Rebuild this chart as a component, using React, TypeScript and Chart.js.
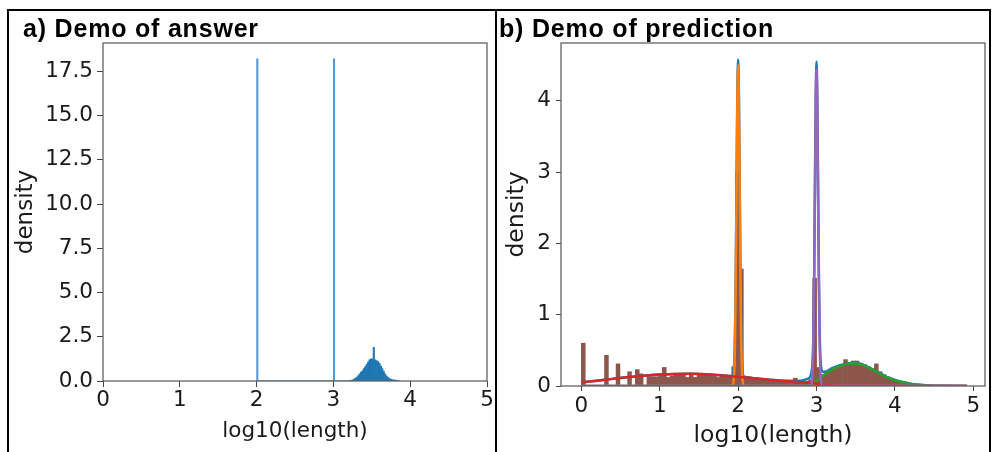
import React, { useEffect, useRef } from "react";
import { Chart, registerables } from "chart.js";

Chart.register(...registerables);

// ---------- Panel a: answer histogram (density) ----------
const answerBinStart = 2.0;
const answerBinWidth = 0.0185;
const answerDensity = [
  18.2, 0, 0, 0, 0, 0, 0, 0, 0, 0,
  0, 0, 0, 0, 0, 0, 0, 0, 0, 0,
  0, 0, 0, 0, 0, 0, 0, 0, 0, 0,
  0, 0, 0, 0, 0, 0, 0, 0, 0, 0,
  0, 0, 0, 0, 0, 0, 0, 0, 0, 0,
  0, 0, 0, 0, 18.2, 0, 0, 0, 0, 0,
  0, 0, 0, 0, 0, 0.02, 0.04, 0.06, 0.1, 0.16,
  0.22, 0.3, 0.4, 0.5, 0.58, 0.7, 0.82, 0.95, 1.08, 1.2,
  1.25, 1.25, 1.9, 1.2, 1.15, 1.1, 1.0, 0.85, 0.7, 0.55,
  0.4, 0.28, 0.2, 0.14, 0.1, 0.08, 0.05, 0.06, 0.04, 0.03,
];
const xTicksA = [0, 1, 2, 3, 4, 5];
const yTicksA = [0, 2.5, 5, 7.5, 10, 12.5, 15, 17.5];

// ---------- Panel b: prediction histogram + KDE components ----------
const predBinStart = 0;
const predBinWidth = 0.0492;
const predDensity = [
  0.6, 0, 0, 0, 0, 0, 0.43, 0, 0, 0.31,
  0, 0, 0.2, 0, 0.23, 0.17, 0, 0.13, 0.13, 0.13,
  0.14, 0.26, 0.12, 0.14, 0.15, 0.15, 0.15, 0.12, 0.16, 0.12,
  0.16, 0.16, 0.15, 0.17, 0.15, 0.12, 0.14, 0.13, 0.13, 0.27,
  3.0, 1.64, 0.12, 0.13, 0.1, 0.1, 0.1, 0.09, 0.09, 0.08,
  0.08, 0.07, 0.07, 0.06, 0.06, 0.11, 0.06, 0.06, 0.07, 0.09,
  1.51, 0.26, 0.16, 0.19, 0.21, 0.24, 0.26, 0.28, 0.37, 0.31,
  0.35, 0.35, 0.32, 0.3, 0.27, 0.24, 0.31, 0.2, 0.16, 0.13,
  0.11, 0.08, 0.06, 0.04, 0.02, 0.01, 0, 0, 0, 0,
  0, 0, 0, 0, 0, 0, 0, 0, 0, 0,
];

const kdeTotal: [number, number][] = [
  [0, 0.05], [0.2, 0.075], [0.4, 0.1], [0.6, 0.125], [0.8, 0.145], [1.0, 0.16],
  [1.2, 0.17], [1.4, 0.172], [1.6, 0.165], [1.8, 0.15], [1.9, 0.14], [1.93, 0.14],
  [1.94, 0.19], [1.95, 0.33], [1.96, 0.74], [1.97, 1.6], [1.98, 2.86], [1.99, 4.1],
  [2.0, 4.58], [2.01, 4.1], [2.02, 2.86], [2.03, 1.59], [2.04, 0.74], [2.05, 0.32],
  [2.06, 0.17], [2.08, 0.13], [2.2, 0.11], [2.4, 0.088], [2.6, 0.072], [2.8, 0.075],
  [2.88, 0.1], [2.92, 0.13], [2.94, 0.22], [2.95, 0.34], [2.96, 0.72], [2.97, 1.55],
  [2.98, 2.8], [2.99, 4.0], [3.0, 4.55], [3.01, 4.05], [3.02, 2.85], [3.03, 1.62],
  [3.04, 0.8], [3.05, 0.4], [3.06, 0.26], [3.08, 0.2], [3.1, 0.2], [3.2, 0.25],
  [3.3, 0.29], [3.4, 0.315], [3.5, 0.325], [3.6, 0.295], [3.7, 0.245], [3.8, 0.185],
  [3.9, 0.125], [4.0, 0.085], [4.1, 0.055], [4.2, 0.033], [4.3, 0.019], [4.4, 0.01],
  [4.5, 0.005], [4.7, 0.002], [4.92, 0],
];
const kdePeak2: [number, number][] = [
  [0, 0], [1.9, 0], [1.93, 0.01], [1.94, 0.05], [1.95, 0.2], [1.96, 0.61],
  [1.97, 1.46], [1.98, 2.73], [1.99, 3.97], [2.0, 4.5], [2.01, 3.97], [2.02, 2.73],
  [2.03, 1.46], [2.04, 0.61], [2.05, 0.2], [2.06, 0.05], [2.07, 0.01], [2.1, 0], [4.92, 0],
];
const kdeLong: [number, number][] = [
  [0, 0], [2.85, 0], [2.95, 0.03], [3.0, 0.07], [3.1, 0.16], [3.2, 0.23], [3.3, 0.28],
  [3.4, 0.31], [3.5, 0.32], [3.6, 0.29], [3.7, 0.24], [3.8, 0.18], [3.9, 0.12],
  [4.0, 0.08], [4.1, 0.05], [4.2, 0.03], [4.3, 0.016], [4.4, 0.008], [4.5, 0.004],
  [4.7, 0.001], [4.92, 0],
];
const kdeShort: [number, number][] = [
  [0, 0.05], [0.2, 0.075], [0.4, 0.1], [0.6, 0.125], [0.8, 0.145], [1.0, 0.16],
  [1.2, 0.17], [1.4, 0.172], [1.6, 0.163], [1.8, 0.148], [2.0, 0.128], [2.2, 0.108],
  [2.4, 0.088], [2.6, 0.07], [2.8, 0.054], [2.95, 0.042], [3.05, 0.02], [3.2, 0.005],
  [3.4, 0], [4.92, 0],
];
const kdePeak3: [number, number][] = [
  [0, 0], [2.9, 0], [2.93, 0.01], [2.94, 0.05], [2.95, 0.2], [2.96, 0.6],
  [2.97, 1.44], [2.98, 2.7], [2.99, 3.93], [3.0, 4.45], [3.01, 3.93], [3.02, 2.7],
  [3.03, 1.44], [3.04, 0.6], [3.05, 0.2], [3.06, 0.05], [3.07, 0.01], [3.1, 0], [4.92, 0],
];
const xTicksB = [0, 1, 2, 3, 4, 5];
const yTicksB = [0, 1, 2, 3, 4];

const TICK_FONT = "DejaVu Sans";
const TEXT_COLOR = "#1a1a1a";
const AXIS_COLOR = "#444";

const framePlugin = {
  id: "frame",
  afterDatasetsDraw(chart: any) {
    const { ctx, chartArea: a } = chart;
    ctx.save();
    ctx.strokeStyle = "#555";
    ctx.lineWidth = 1.2;
    ctx.strokeRect(a.left, a.top, a.right - a.left, a.bottom - a.top);
    ctx.restore();
  },
};

function toBars(start: number, width: number, values: number[]) {
  return values.map((y, i) => ({ x: start + width * (i + 0.5), y }));
}
function toPts(pairs: [number, number][]) {
  return pairs.map(([x, y]) => ({ x, y }));
}

function lineDs(pairs: [number, number][], color: string) {
  return {
    type: "line" as const,
    data: toPts(pairs),
    borderColor: color,
    backgroundColor: color,
    borderWidth: 2.5,
    pointRadius: 0,
    fill: false,
    cubicInterpolationMode: "monotone" as const,
  };
}

function PanelA() {
  const ref = useRef<HTMLCanvasElement>(null);
  useEffect(() => {
    const chart = new Chart(ref.current as HTMLCanvasElement, {
      type: "bar",
      data: {
        datasets: [
          {
            data: toBars(answerBinStart, answerBinWidth, answerDensity) as any,
            // the very thin tall bins render lighter (anti-aliased) in the original
            backgroundColor: (c: any) => (c.raw && c.raw.y > 10 ? "#5598cf" : "#1f77b4"),
            borderWidth: 0,
            barPercentage: 1,
            categoryPercentage: 1,
          },
        ],
      },
      options: {
        animation: false,
        responsive: false,
        events: [],
        layout: { padding: { left: 0, top: 43, right: 9, bottom: 0 } },
        plugins: { legend: { display: false }, tooltip: { enabled: false } },
        scales: {
          x: {
            type: "linear",
            min: 0,
            max: 5,
            offset: false,
            grid: { offset: false, drawOnChartArea: false, drawTicks: true, tickLength: 6, color: AXIS_COLOR },
            border: { display: false },
            ticks: { font: { family: TICK_FONT, size: 21.5 }, color: TEXT_COLOR, padding: 1, maxRotation: 0, autoSkip: false },
            afterBuildTicks: (s: any) => { s.ticks = xTicksA.map((v) => ({ value: v })); },
            title: { display: true, text: "log10(length)", font: { family: TICK_FONT, size: 21.5 }, color: TEXT_COLOR, padding: { top: 0, bottom: 8 } },
            afterFit: (s: any) => { s.height = 71; },
          },
          y: {
            type: "linear",
            min: 0,
            max: 19.1,
            grid: { drawOnChartArea: false, drawTicks: true, tickLength: 6, color: AXIS_COLOR },
            border: { display: false },
            ticks: { font: { family: TICK_FONT, size: 21.5 }, color: TEXT_COLOR, padding: 4, callback: (v: any) => Number(v).toFixed(1) },
            afterBuildTicks: (s: any) => { s.ticks = yTicksA.map((v) => ({ value: v })); },
            title: { display: true, text: "density", font: { family: TICK_FONT, size: 23 }, color: TEXT_COLOR, padding: { top: 12.7, bottom: 0 } },
            afterFit: (s: any) => { s.width = 103; },
          },
        },
      },
      plugins: [framePlugin],
    });
    return () => chart.destroy();
  }, []);
  return <canvas ref={ref} width={496} height={452} style={{ position: "absolute", left: 0, top: 0, width: 496, height: 452 }} />;
}

function PanelB() {
  const ref = useRef<HTMLCanvasElement>(null);
  useEffect(() => {
    const chart = new Chart(ref.current as HTMLCanvasElement, {
      type: "bar",
      data: {
        datasets: [
          lineDs(kdePeak3, "#9467bd"),
          lineDs(kdeShort, "#d62728"),
          lineDs(kdeLong, "#2ca02c"),
          lineDs(kdePeak2, "#ff7f0e"),
          lineDs(kdeTotal, "#1f77b4"),
          {
            type: "bar" as const,
            data: toBars(predBinStart, predBinWidth, predDensity) as any,
            backgroundColor: "#8c564b",
            borderWidth: 0,
            barPercentage: 1,
            categoryPercentage: 1,
          },
        ] as any,
      },
      options: {
        animation: false,
        responsive: false,
        events: [],
        layout: { padding: { left: 0, top: 43, right: 7, bottom: 0 } },
        plugins: { legend: { display: false }, tooltip: { enabled: false } },
        scales: {
          x: {
            type: "linear",
            min: -0.26,
            max: 5.15,
            offset: false,
            grid: { offset: false, drawOnChartArea: false, drawTicks: true, tickLength: 5, color: AXIS_COLOR },
            border: { display: false },
            ticks: { font: { family: TICK_FONT, size: 21.5 }, color: TEXT_COLOR, padding: 3, maxRotation: 0, autoSkip: false },
            afterBuildTicks: (s: any) => { s.ticks = xTicksB.map((v) => ({ value: v })); },
            title: { display: true, text: "log10(length)", font: { family: TICK_FONT, size: 23.5 }, color: TEXT_COLOR, padding: { top: 0, bottom: 2 } },
            afterFit: (s: any) => { s.height = 66; },
          },
          y: {
            type: "linear",
            min: 0,
            max: 4.81,
            grid: { drawOnChartArea: false, drawTicks: true, tickLength: 5, color: AXIS_COLOR },
            border: { display: false },
            ticks: { font: { family: TICK_FONT, size: 21.5 }, color: TEXT_COLOR, padding: 5 },
            afterBuildTicks: (s: any) => { s.ticks = yTicksB.map((v) => ({ value: v })); },
            title: { display: true, text: "density", font: { family: TICK_FONT, size: 23.5 }, color: TEXT_COLOR, padding: { top: 7, bottom: 0 } },
            afterFit: (s: any) => { s.width = 65; },
          },
        },
      },
      plugins: [framePlugin],
    });
    return () => chart.destroy();
  }, []);
  return <canvas ref={ref} width={496} height={452} style={{ position: "absolute", left: 496, top: 0, width: 496, height: 452 }} />;
}

const titleStyle: React.CSSProperties = {
  position: "absolute",
  top: 16,
  fontFamily: "'Liberation Sans', Arial, sans-serif",
  fontWeight: "bold",
  fontSize: 25,
  lineHeight: 1,
  letterSpacing: "0.8px",
  color: "#000",
  whiteSpace: "nowrap",
};

export default function App() {
  return (
    <div style={{ position: "absolute", left: 0, top: 0, width: 992, height: 452, overflow: "hidden", background: "#fff" }}>
      <PanelA />
      <PanelB />
      <div style={{ position: "absolute", left: 7, top: 9, width: 984, height: 443, boxSizing: "border-box", borderTop: "2px solid #000", borderLeft: "2px solid #000", borderRight: "2px solid #000" }} />
      <div style={{ position: "absolute", left: 495, top: 9, width: 2, height: 443, background: "#000" }} />
      <div style={{ ...titleStyle, left: 23 }}>a) Demo of answer</div>
      <div style={{ ...titleStyle, left: 499 }}>b) Demo of prediction</div>
    </div>
  );
}
